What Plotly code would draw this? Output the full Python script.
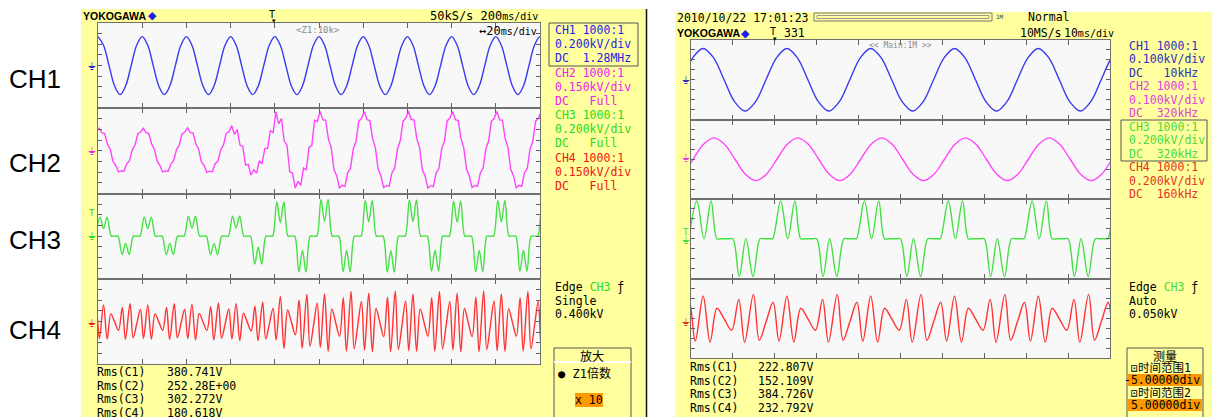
import plotly.graph_objects as go

W, H = 1212, 417

# ------------------------------------------------------------------ data
CHANNELS = ["CH1", "CH2", "CH3", "CH4"]

# Left screen: zoom window Z1, 20 ms/div over 10 div
L_SPAN = 200.0                    # ms
L_PERIOD = 20.0                   # ms
L_VDIV = [200, 150, 200, 150]     # V/div
# Right screen: 10 ms/div over 10 div
R_SPAN = 100.0
R_PERIOD = 20.0
R_VDIV = [100, 100, 200, 200]

# one-cycle shapes (phase in ms, level relative to peak)
SINE_PHASE = [0.0, 2.5, 5.0, 7.5, 10.0, 12.5, 15.0, 17.5]
SINE_LEVEL = [1.0, 0.7, 0.0, -0.7, -1.0, -0.7, 0.0, 0.7]

NOISY_PHASE = [0.0, 1.25, 2.5, 3.75, 5.0, 6.25, 7.5, 8.75,
               10.0, 11.25, 12.5, 13.75, 15.0, 16.25, 17.5, 18.75]
NOISY_LEVEL = [1.0, 0.92, 0.71, 0.38, 0.0, -0.38, -0.71, -0.92,
               -1.0, -0.92, -0.71, -0.38, 0.0, 0.38, 0.71, 0.92]
NOISY_RIPPLE = [0.5, -0.6, 0.9, -0.4, 0.7, -0.9, 0.3, -0.6,
                0.5, -0.3, 0.9, -0.7, 0.4, -0.9, 0.7, -0.3]

PWM_L_PHASE = [-1.0, 0.9, 2.5, 4.1, 6.0, 7.0, 8.0, 9.0, 10.9, 12.5, 14.1, 16.0, 17.0, 18.0]
PWM_L_LEVEL = [0.0, 1.0, 0.4, 1.0, 0.0, 0.0, 0.0, 0.0, -1.0, -0.4, -1.0, 0.0, 0.0, 0.0]

PWM_R_PHASE = [-0.5, 1.4, 3.1, 4.8, 6.2, 7.2, 9.0, 10.0, 11.5, 13.1, 14.8, 16.5, 17.5, 19.0]
PWM_R_LEVEL = [0.0, 1.0, 0.0, 1.0, 0.0, 0.0, 0.0, 0.0, -1.0, 0.0, -1.0, 0.0, 0.0, 0.0]

OUT_PHASE = [0.0, 1.65, 3.3, 5.05, 6.8, 8.5, 9.9, 12.0, 13.4, 15.05, 16.7, 18.1]
OUT_LEVEL = [0.92, -1.0, 0.42, -0.04, -0.5, 0.79, -1.0, 1.0, -0.92, -0.13, 0.67, -0.96]

# first-cycle start (ms) and per-cycle peak values (V)
L_CH1_T0, L_CH1_AMP = 0.0, [545, 545, 545, 545, 545, 545, 545, 545, 545, 545, 545]
L_CH2_T0 = 0.5 - 20.0
L_CH2_AMP = [300, 300, 300, 305, 310, 490, 520, 520, 525, 520, 520, 520]
L_CH2_NOISE = [35, 35, 35, 40, 90, 120, 70, 65, 70, 65, 70, 65]
L_CH3_T0 = 0.0
L_CH3_POS = [356, 356, 375, 375, 640, 690, 670, 680, 660, 670, 670]
L_CH3_NEG = [345, 345, 345, 525, 675, 670, 680, 660, 670, 660, 660]
L_CH4_T0, L_CH4_AMP = 2.5 - 20.0, [250, 250, 250, 260, 270, 380, 420, 430, 420, 430, 420, 420]

R_CH1_T0, R_CH1_AMP = 2.9 - 20.0, [315, 315, 315, 315, 315, 315, 315]
R_CH2_T0, R_CH2_AMP = 5.5 - 20.0, [215, 215, 215, 215, 215, 215, 215]
R_CH3_T0, R_CH3_AMP = 0.0, [760, 760, 760, 760, 760, 760]
R_CH4_T0, R_CH4_AMP = 2.9 - 20.0, [480, 480, 480, 480, 480, 480, 480]

L_RMS = ["380.741V", "252.28E+00", "302.272V", "180.618V"]
R_RMS = ["222.807V", "152.109V", "384.726V", "232.792V"]
L_INFO = [("CH1 1000:1", "0.200kV/div", "DC  1.28MHz"),
          ("CH2 1000:1", "0.150kV/div", "DC   Full"),
          ("CH3 1000:1", "0.200kV/div", "DC   Full"),
          ("CH4 1000:1", "0.150kV/div", "DC   Full")]
R_INFO = [("CH1 1000:1", "0.100kV/div", "DC   10kHz"),
          ("CH2 1000:1", "0.100kV/div", "DC  320kHz"),
          ("CH3 1000:1", "0.200kV/div", "DC  320kHz"),
          ("CH4 1000:1", "0.200kV/div", "DC  160kHz")]

# ------------------------------------------------------------------ style
YELLOW = "#FFFF9E"
GRIDBG = "#F8F8F8"
TRACE_COL = ["#3A3AEE", "#FF44FF", "#44E044", "#FF3333"]
TEXT_COL_L = ["#1E1EE6", "#F020F0", "#22DD22", "#F01414"]
TEXT_COL_R = ["#2E2EC0", "#E040E0", "#3FDD3F", "#E8301E"]
MONO = "DejaVu Sans Mono, Noto Sans CJK SC"
SANS = "Liberation Sans, Arial"


def px(x):
    return x / W


def py(y):
    return 1 - y / H


def tile(phase, level, t0, period, amp_pos, amp_neg=None, ripple=None, noise=None):
    xs, ys = [], []
    for c, a in enumerate(amp_pos):
        an = amp_neg[c] if amp_neg else a
        for j, (p, lv) in enumerate(zip(phase, level)):
            xs.append(t0 + c * period + p)
            v = lv * (a if lv >= 0 else an)
            if ripple is not None:
                v += ripple[j] * noise[c]
            ys.append(v)
    return xs, ys


fig = go.Figure()
layout = {}

# screen geometry (pixels)
SCREENS = [
    dict(x0=98, x1=540, top=23, bottom=364, span=L_SPAN, dtick=20.0, vdiv=L_VDIV, first=1),
    dict(x0=691, x1=1110, top=40, bottom=358, span=R_SPAN, dtick=10.0, vdiv=R_VDIV, first=5),
]

for s in SCREENS:
    sec = (s["bottom"] - s["top"]) / 4
    for k in range(4):
        i = s["first"] + k
        xn = "xaxis" if i == 1 else f"xaxis{i}"
        yn = "yaxis" if i == 1 else f"yaxis{i}"
        top = s["top"] + k * sec
        bot = top + sec
        layout[xn] = dict(domain=[px(s["x0"]), px(s["x1"])], range=[0, s["span"]],
                          anchor=f"y{i}", showline=True, linecolor="#707070", linewidth=1,
                          mirror="ticks", ticks="inside", ticklen=5, tickcolor="#606060",
                          tick0=0, dtick=s["dtick"], showticklabels=False,
                          showgrid=False, zeroline=False, fixedrange=True)
        v = s["vdiv"][k]
        layout[yn] = dict(domain=[py(bot), py(top)], range=[-4 * v, 4 * v],
                          anchor=f"x{i}", showline=True, linecolor="#707070", linewidth=1,
                          mirror="ticks", ticks="inside", ticklen=4, tickcolor="#606060",
                          tick0=0, dtick=v, showticklabels=False,
                          showgrid=False, zeroline=False, fixedrange=True)

series = [
    (1, tile(SINE_PHASE, SINE_LEVEL, L_CH1_T0, L_PERIOD, L_CH1_AMP), 0, "spline"),
    (2, tile(NOISY_PHASE, NOISY_LEVEL, L_CH2_T0, L_PERIOD, L_CH2_AMP,
             ripple=NOISY_RIPPLE, noise=L_CH2_NOISE), 1, "linear"),
    (3, tile(PWM_L_PHASE, PWM_L_LEVEL, L_CH3_T0, L_PERIOD, L_CH3_POS, L_CH3_NEG), 2, "spline"),
    (4, tile(OUT_PHASE, OUT_LEVEL, L_CH4_T0, L_PERIOD, L_CH4_AMP), 3, "spline"),
    (5, tile(SINE_PHASE, SINE_LEVEL, R_CH1_T0, R_PERIOD, R_CH1_AMP), 0, "spline"),
    (6, tile(SINE_PHASE, SINE_LEVEL, R_CH2_T0, R_PERIOD, R_CH2_AMP), 1, "spline"),
    (7, tile(PWM_R_PHASE, PWM_R_LEVEL, R_CH3_T0, R_PERIOD, R_CH3_AMP), 2, "spline"),
    (8, tile(OUT_PHASE, OUT_LEVEL, R_CH4_T0, R_PERIOD, R_CH4_AMP), 3, "spline"),
]
for i, (xs, ys), c, shp in series:
    fig.add_trace(go.Scatter(x=xs, y=ys, mode="lines", xaxis=f"x{i}", yaxis=f"y{i}",
                             line=dict(color=TRACE_COL[c], width=1.4, shape=shp),
                             hoverinfo="skip", showlegend=False))

# ------------------------------------------------------------------ decorations
shapes = []


def rect(x0, y0, x1, y1, fill=None, line=None, lw=1):
    shapes.append(dict(type="rect", xref="paper", yref="paper", x0=px(x0), x1=px(x1),
                       y0=py(y1), y1=py(y0), fillcolor=fill or "rgba(0,0,0,0)",
                       line=dict(color=line or "rgba(0,0,0,0)", width=lw if line else 0),
                       layer="below"))


def hline(x0, x1, y, color, lw=1):
    shapes.append(dict(type="line", xref="paper", yref="paper", x0=px(x0), x1=px(x1),
                       y0=py(y), y1=py(y), line=dict(color=color, width=lw), layer="below"))


rect(81, 9, 646, 417, fill=YELLOW)
shapes.append(dict(type="line", xref="paper", yref="paper", x0=px(646.5), x1=px(646.5),
                   y0=py(417), y1=py(9), line=dict(color="#111111", width=1.5)))
rect(675, 12, 1212, 417, fill=YELLOW)
rect(98, 23, 540, 364, fill=GRIDBG)
rect(691, 40, 1110, 358, fill=GRIDBG)

# info boxes
rect(549, 23, 638, 66, line="#555555")
rect(1121, 120, 1207, 161, line="#555555")
# left lower box
rect(554, 348, 631, 418, line="#555555")
hline(554, 631, 362, "#FFFFFF", 2)
rect(575, 393, 603, 407, fill="#FF9900")
# right lower box
rect(1127, 348, 1203, 418, line="#555555")
rect(1128, 374, 1202, 386, fill="#FF9900")
rect(1128, 399, 1202, 411, fill="#FF9900")
# record bar
rect(814, 13, 992, 21, line="#777777")
rect(817, 15.5, 989, 18.5, line="#999999")

annotations = []


def txt(x, y, s, color="#000000", size=12, family=MONO, anchor="left", **kw):
    annotations.append(dict(x=px(x), y=py(y), xref="paper", yref="paper", text=s,
                            showarrow=False, xanchor=anchor, yanchor="middle",
                            font=dict(family=family, size=size, color=color), **kw))


# channel labels
for name, y in zip(CHANNELS, [79, 163, 240, 330]):
    txt(7, y, name, size=26, family=SANS)

SMALL = "<span style='font-size:10px'>ms/div</span>"

# left header
txt(81, 16, "<b>YOKOGAWA</b>", size=10.5, family=SANS)
txt(146, 16, "◆", color="#1E1EE6", size=11, family="DejaVu Sans")
txt(272, 14, "T", size=10, anchor="center")
txt(274, 21, "▾", size=7, anchor="center", family="DejaVu Sans")
txt(540, 16, "50kS/s 200" + SMALL, size=12, anchor="right")
txt(539, 31, "↔20" + SMALL, size=12, anchor="right")
txt(318, 30, "&lt;Z1:10k&gt;", color="#8A8A8A", size=9, anchor="center")

# left channel info
yy = [30, 44, 58, 73, 87, 101, 115, 129, 143, 158, 172, 186]
for c, lines in enumerate(L_INFO):
    for j, s in enumerate(lines):
        txt(553, yy[3 * c + j], s.replace(" ", "&nbsp;"), color=TEXT_COL_L[c], size=11.5)

txt(553, 287, "Edge <span style='color:#22DD22'>CH3</span> ƒ", size=11.5)
txt(553, 301, "Single", size=11.5)
txt(553, 314, "0.400kV", size=11.5)
txt(592, 355, "放大", size=12, anchor="center", family="Noto Sans CJK SC")
txt(556, 373, "● Z1倍数", size=12, family=MONO)
txt(589, 400, "x&nbsp;10", size=11.5, anchor="center")

# left rms
for j, (v, y) in enumerate(zip(L_RMS, [372, 385.5, 399, 412.5])):
    txt(95, y, f"Rms(C{j+1})", size=11.5)
    txt(165, y, v, size=11.5)

# right header
txt(675, 18, "2010/10/22 17:01:23", size=11.5)
txt(994, 17, "1M", size=6, color="#444444")
txt(1026, 17, "Normal", size=11.5)
txt(675, 33.5, "<b>YOKOGAWA</b>", size=10.5, family=SANS)
txt(739, 33.5, "◆", color="#1E1EE6", size=11, family="DejaVu Sans")
txt(773, 32, "T", size=10, anchor="center")
txt(775, 39, "▾", size=7, anchor="center", family="DejaVu Sans")
txt(782, 33.5, "331", size=11.5)
txt(1018, 33.5, "10MS/s", size=11.5)
txt(1116, 33.5, "10" + SMALL, size=11.5, anchor="right")
txt(900, 46, "&lt;&lt; Main:1M &gt;&gt;", color="#8A8A8A", size=8, anchor="center")

# right channel info
for c, lines in enumerate(R_INFO):
    for j, s in enumerate(lines):
        txt(1127, 45.7 + 13.5 * (3 * c + j), s.replace(" ", "&nbsp;"), color=TEXT_COL_R[c], size=11.5)

txt(1127, 287, "Edge <span style='color:#3FDD3F'>CH3</span> ƒ", size=11.5)
txt(1127, 301, "Auto", size=11.5)
txt(1127, 314, "0.050kV", size=11.5)
txt(1165, 355, "测量", size=12, anchor="center", family="Noto Sans CJK SC")
txt(1129, 368, "⊡时间范围1", size=11.5)
txt(1202, 380, "-5.00000div", size=11.5, anchor="right")
txt(1129, 393, "⊡时间范围2", size=11.5)
txt(1202, 405, "5.00000div", size=11.5, anchor="right")

# right rms
for j, (v, y) in enumerate(zip(R_RMS, [367, 380.5, 394, 407.5])):
    txt(688, y, f"Rms(C{j+1})", size=11.5)
    txt(756, y, v, size=11.5)

# ground markers
for c, y in enumerate([66, 152, 236, 323]):
    txt(92, y, "⏚", color=TEXT_COL_L[c], size=11, anchor="center", family="DejaVu Sans")
txt(92, 213, "T", color=TEXT_COL_L[2], size=9, anchor="center")
for c, y in enumerate([80, 158, 240, 322]):
    txt(686, y, "⏚", color=TEXT_COL_R[c], size=11, anchor="center", family="DejaVu Sans")
txt(686, 232, "T", color=TEXT_COL_R[2], size=9, anchor="center")

fig.update_layout(width=W, height=H, margin=dict(l=0, r=0, t=0, b=0),
                  paper_bgcolor="#FFFFFF", plot_bgcolor="rgba(0,0,0,0)",
                  shapes=shapes, annotations=annotations, showlegend=False, **layout)
fig.write_html("out.html", config={"displayModeBar": False},
               post_script="document.body.style.margin='0px';document.body.style.overflow='hidden';")
